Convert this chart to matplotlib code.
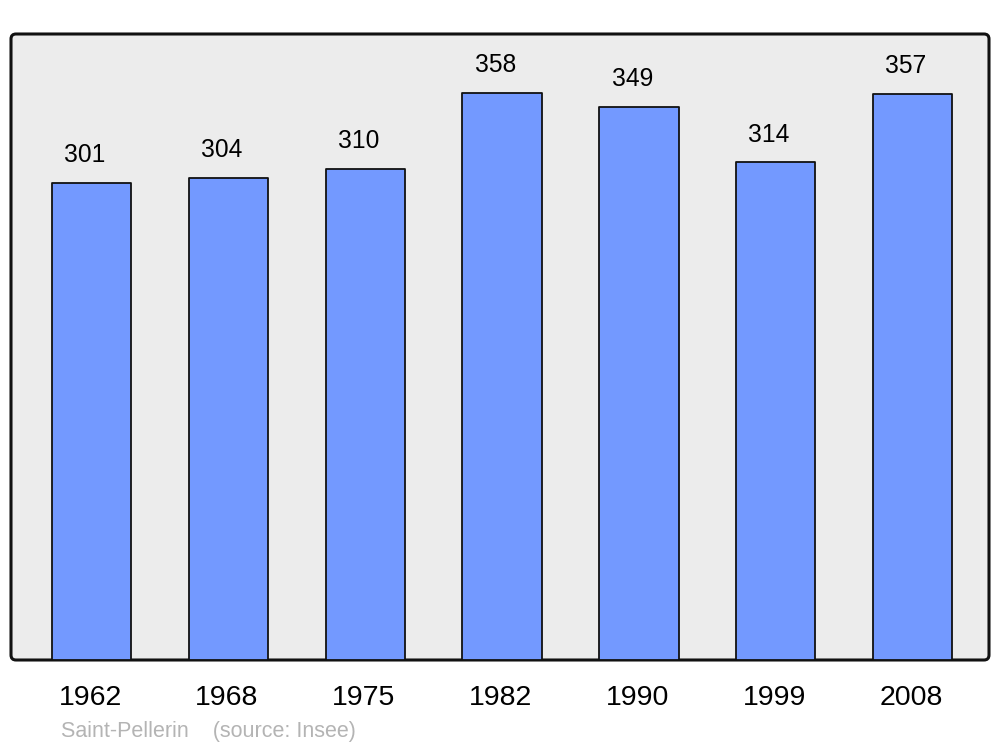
import matplotlib.pyplot as plt
from matplotlib.patches import FancyBboxPatch
from matplotlib.transforms import ScaledTranslation

years = ['1962', '1968', '1975', '1982', '1990', '1999', '2008']
population = [301, 304, 310, 358, 349, 314, 357]
place = 'Saint-Pellerin'
source = '(source: Insee)'

plt.rcParams['font.family'] = ['Liberation Sans', 'DejaVu Sans']

fig = plt.figure(figsize=(10, 7.47), dpi=100)
W, H = 1000, 747
left, right, top, bottom = 11, 989, 34, 660
ax = fig.add_axes([left / W, 1 - bottom / H, (right - left) / W, (bottom - top) / H])
ax.set_facecolor('none')

# rounded frame behind the axes, in inches so corners stay round
frame = FancyBboxPatch((left / 100, (H - bottom) / 100), (right - left) / 100, (bottom - top) / 100,
                       boxstyle='round,pad=0,rounding_size=0.05',
                       transform=fig.dpi_scale_trans, facecolor='#ececec',
                       edgecolor='#111111', linewidth=2.2, zorder=-1)
fig.patches.append(frame)

x = range(len(years))
bars = ax.bar(x, population, width=0.58, color='#7399ff', edgecolor='#111111',
              linewidth=1.3, zorder=2)
for b in bars:
    b.set_joinstyle('round')

for xi, v in zip(x, population):
    ax.annotate(str(v), (xi, v), xytext=(-4.7, 20), textcoords='offset points',
                ha='center', va='center', fontsize=17.7, color='black')

ax.set_xlim(-0.59, 6.56)
ax.set_ylim(0, 395)
ax.set_xticks(list(x))
ax.set_xticklabels(years, fontsize=20.5)
ax.tick_params(axis='x', length=0, pad=18)
shift = ScaledTranslation(-1.5 / 100, 0, fig.dpi_scale_trans)
for lbl in ax.get_xticklabels():
    lbl.set_transform(lbl.get_transform() + shift)
ax.set_yticks([])
for s in ax.spines.values():
    s.set_visible(False)

fig.text(61 / W, 1 - 731.5 / H, place + '    ' + source, fontsize=15.5,
         color='#b4b4b4', ha='left', va='center')

fig.savefig('out.png', dpi=100)
